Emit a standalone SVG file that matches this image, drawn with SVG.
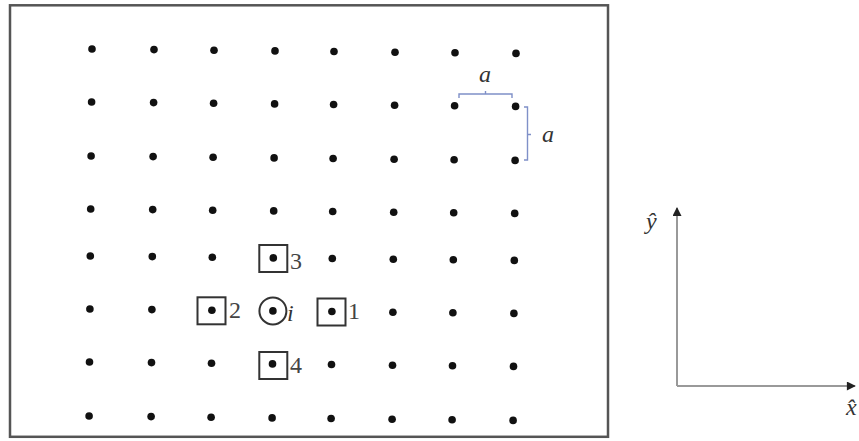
<svg xmlns="http://www.w3.org/2000/svg" width="859" height="441" viewBox="0 0 859 441">
<style>
.dot{fill:#111}
.box{fill:none;stroke:#333;stroke-width:2}
.lbl{font-family:"Liberation Serif",serif;font-size:24px;fill:#444}
.it{font-family:"Liberation Serif",serif;font-style:italic;font-size:24px;fill:#333}
.br{fill:none;stroke:#7f90c8;stroke-width:1.4}
.ax{stroke:#999;stroke-width:2;fill:none}
</style>
<defs>
<marker id="ah" viewBox="0 0 10 10" refX="9" refY="5" markerWidth="10" markerHeight="9" markerUnits="userSpaceOnUse" orient="auto">
<path d="M0,0 L10,5 L0,10 Z" fill="#222"/>
</marker>
</defs>
<rect x="10" y="5.3" width="598" height="431.5" fill="#fff" stroke="#555" stroke-width="2.5"/>
<g id="lattice">
<circle class="dot" r="3.8" cx="92" cy="49"/><circle class="dot" r="3.8" cx="154" cy="49.6"/><circle class="dot" r="3.8" cx="214" cy="50.3"/><circle class="dot" r="3.8" cx="275" cy="50.9"/><circle class="dot" r="3.8" cx="334" cy="51.5"/><circle class="dot" r="3.8" cx="395" cy="52.2"/><circle class="dot" r="3.8" cx="455" cy="52.8"/><circle class="dot" r="3.8" cx="516" cy="53.4"/>
<circle class="dot" r="3.8" cx="91.6" cy="102"/><circle class="dot" r="3.8" cx="153.6" cy="102.6"/><circle class="dot" r="3.8" cx="213.6" cy="103.3"/><circle class="dot" r="3.8" cx="274.6" cy="103.9"/><circle class="dot" r="3.8" cx="333.6" cy="104.5"/><circle class="dot" r="3.8" cx="394.6" cy="105.2"/><circle class="dot" r="3.8" cx="454.6" cy="105.8"/><circle class="dot" r="3.8" cx="515.6" cy="106.4"/>
<circle class="dot" r="3.8" cx="91.1" cy="156"/><circle class="dot" r="3.8" cx="153.1" cy="156.6"/><circle class="dot" r="3.8" cx="213.1" cy="157.3"/><circle class="dot" r="3.8" cx="274.1" cy="157.9"/><circle class="dot" r="3.8" cx="333.1" cy="158.5"/><circle class="dot" r="3.8" cx="394.1" cy="159.2"/><circle class="dot" r="3.8" cx="454.1" cy="159.8"/><circle class="dot" r="3.8" cx="515.1" cy="160.4"/>
<circle class="dot" r="3.8" cx="90.7" cy="209"/><circle class="dot" r="3.8" cx="152.7" cy="209.6"/><circle class="dot" r="3.8" cx="212.7" cy="210.3"/><circle class="dot" r="3.8" cx="273.7" cy="210.9"/><circle class="dot" r="3.8" cx="332.7" cy="211.5"/><circle class="dot" r="3.8" cx="393.7" cy="212.2"/><circle class="dot" r="3.8" cx="453.7" cy="212.8"/><circle class="dot" r="3.8" cx="514.7" cy="213.4"/>
<circle class="dot" r="3.8" cx="90.3" cy="256"/><circle class="dot" r="3.8" cx="152.3" cy="256.6"/><circle class="dot" r="3.8" cx="212.3" cy="257.3"/><circle class="dot" r="3.8" cx="273.3" cy="257.9"/><circle class="dot" r="3.8" cx="332.3" cy="258.5"/><circle class="dot" r="3.8" cx="393.3" cy="259.2"/><circle class="dot" r="3.8" cx="453.3" cy="259.8"/><circle class="dot" r="3.8" cx="514.3" cy="260.4"/>
<circle class="dot" r="3.8" cx="89.9" cy="309"/><circle class="dot" r="3.8" cx="151.9" cy="309.6"/><circle class="dot" r="3.8" cx="211.9" cy="310.3"/><circle class="dot" r="3.8" cx="272.9" cy="310.9"/><circle class="dot" r="3.8" cx="331.9" cy="311.5"/><circle class="dot" r="3.8" cx="392.9" cy="312.2"/><circle class="dot" r="3.8" cx="452.9" cy="312.8"/><circle class="dot" r="3.8" cx="513.9" cy="313.4"/>
<circle class="dot" r="3.8" cx="89.5" cy="362"/><circle class="dot" r="3.8" cx="151.5" cy="362.6"/><circle class="dot" r="3.8" cx="211.5" cy="363.3"/><circle class="dot" r="3.8" cx="272.5" cy="363.9"/><circle class="dot" r="3.8" cx="331.5" cy="364.5"/><circle class="dot" r="3.8" cx="392.5" cy="365.2"/><circle class="dot" r="3.8" cx="452.5" cy="365.8"/><circle class="dot" r="3.8" cx="513.5" cy="366.4"/>
<circle class="dot" r="3.8" cx="89.1" cy="416"/><circle class="dot" r="3.8" cx="151.1" cy="416.6"/><circle class="dot" r="3.8" cx="211.1" cy="417.3"/><circle class="dot" r="3.8" cx="272.1" cy="417.9"/><circle class="dot" r="3.8" cx="331.1" cy="418.5"/><circle class="dot" r="3.8" cx="392.1" cy="419.2"/><circle class="dot" r="3.8" cx="452.1" cy="419.8"/><circle class="dot" r="3.8" cx="513.1" cy="420.4"/>
</g>
<g id="site-i">
<circle cx="272.9" cy="310.9" r="13.5" fill="none" stroke="#333" stroke-width="2"/>
<text class="it" x="287" y="321">i</text>
</g>
<g id="neighbor-1">
<rect class="box" x="317.5" y="298.5" width="28" height="27"/>
<text class="lbl" x="348" y="319">1</text>
</g>
<g id="neighbor-2">
<rect class="box" x="197.5" y="297.3" width="28" height="27"/>
<text class="lbl" x="229" y="318">2</text>
</g>
<g id="neighbor-3">
<rect class="box" x="259.3" y="245" width="28" height="27"/>
<text class="lbl" x="290" y="269">3</text>
</g>
<g id="neighbor-4">
<rect class="box" x="259.3" y="352" width="28" height="27"/>
<text class="lbl" x="290" y="373">4</text>
</g>
<g id="spacing">
<path class="br" d="M459,98 V94 H512 V98 M485.5,94 V91"/>
<text class="it" x="479" y="82">a</text>
<path class="br" d="M524,107 H527.5 V160 H524 M527.5,134.5 H531"/>
<text class="it" x="542" y="142">a</text>
</g>
<g id="connectors">
<path class="ax" d="M677,386 V208" marker-end="url(#ah)"/>
<path class="ax" d="M677,386 H855" marker-end="url(#ah)"/>
</g>
<g id="axis-labels">
<text class="it" x="646" y="229">ŷ</text>
<text class="it" x="846" y="415">x̂</text>
</g>
</svg>
